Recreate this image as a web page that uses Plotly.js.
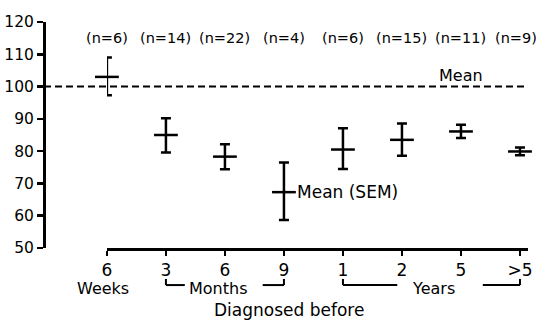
<!DOCTYPE html>
<html>
<head>
<meta charset="utf-8">
<script src="https://cdn.plot.ly/plotly-3.0.1.min.js"></script>
<style>html,body{margin:0;padding:0;background:#fff;}#chart{width:539px;height:321px;}</style>
</head>
<body>
<div id="chart"></div>
<script>
// ---- data ----
const categories = ['6', '3', '6', '9', '1', '2', '5', '>5'];
const means      = [103.0, 85.0, 78.3, 67.3, 80.5, 83.5, 86.1, 79.9];
const upperEnds  = [109.0, 90.2, 82.1, 76.5, 87.1, 88.6, 88.2, 81.1];
const lowerEnds  = [97.3, 79.6, 74.4, 58.7, 74.5, 78.6, 84.1, 78.7];
const nLabels    = ['(n=6)', '(n=14)', '(n=22)', '(n=4)', '(n=6)', '(n=15)', '(n=11)', '(n=9)'];
const referenceMean = 100;
const yTicks = [50, 60, 70, 80, 90, 100, 110, 120];
const unitLabels = ['Weeks', 'Months', 'Years'];
const xTitle = 'Diagnosed before';

const FONT = 'DejaVu Sans, sans-serif';
const xIdx = categories.map((c, i) => i);
const errPlus = upperEnds.map((u, i) => +(u - means[i]).toFixed(2));
const errMinus = lowerEnds.map((l, i) => +(means[i] - l).toFixed(2));

const trace = {
  type: 'scatter', mode: 'markers',
  x: xIdx, y: means,
  cliponaxis: false,
  marker: {symbol: 'line-ew', size: 17, color: '#000', line: {color: '#000', width: 2.5}},
  error_y: {type: 'data', symmetric: false, array: errPlus, arrayminus: errMinus,
            color: '#000', thickness: 2.5, width: 5},
  hoverinfo: 'skip'
};

const annotations = nLabels.map((t, i) => ({
  x: i, y: 115.2, xref: 'x', yref: 'y', text: t, showarrow: false,
  xanchor: 'center', yanchor: 'middle', xshift: (i === nLabels.length - 1 ? -4 : 0),
  font: {family: FONT, size: 14.5, color: '#000'}
}));
annotations.push({x: 6, y: referenceMean, xref: 'x', yref: 'y', text: 'Mean', showarrow: false,
  xanchor: 'center', yanchor: 'bottom', yshift: 0, font: {family: FONT, size: 16, color: '#000'}});
annotations.push({x: 3, y: means[3], xref: 'x', yref: 'y', text: 'Mean (SEM)', showarrow: false,
  xanchor: 'left', yanchor: 'middle', xshift: 11, font: {family: FONT, size: 17, color: '#000'}});
// unit labels
annotations.push({x: 0, y: -0.177, xref: 'x', yref: 'paper', text: unitLabels[0], showarrow: false,
  xanchor: 'center', yanchor: 'middle', xshift: -4, font: {family: FONT, size: 16, color: '#000'}});
annotations.push({x: 1.88, y: -0.177, xref: 'x', yref: 'paper', text: unitLabels[1], showarrow: false,
  xanchor: 'center', yanchor: 'middle', font: {family: FONT, size: 16, color: '#000'}});
annotations.push({x: 5.53, y: -0.177, xref: 'x', yref: 'paper', text: unitLabels[2], showarrow: false,
  xanchor: 'center', yanchor: 'middle', font: {family: FONT, size: 16, color: '#000'}});
annotations.push({x: 3.08, y: -0.274, xref: 'x', yref: 'paper', text: xTitle, showarrow: false,
  xanchor: 'center', yanchor: 'middle', font: {family: FONT, size: 17, color: '#000'}});

const ln = {color: '#000', width: 2};
const yTop = -0.137, yBot = -0.164;
function seg(x0, y0, x1, y1) {
  return {type: 'line', xref: 'x', yref: 'paper', x0: x0, y0: y0, x1: x1, y1: y1, line: ln};
}
const shapes = [
  {type: 'line', xref: 'paper', yref: 'y', x0: 0, x1: 0.998, y0: referenceMean, y1: referenceMean,
   line: {color: '#000', width: 2, dash: '7px,4px'}},
  // Months bracket
  seg(1, yTop, 1, yBot), seg(1, yBot, 1.32, yBot),
  seg(2.64, yBot, 3, yBot), seg(3, yBot, 3, yTop),
  // Years bracket
  seg(4, yTop, 4, yBot), seg(4, yBot, 4.92, yBot),
  seg(6.37, yBot, 7, yBot), seg(7, yBot, 7, yTop)
];

const layout = {
  width: 539, height: 321,
  margin: {l: 44, r: 11, t: 22, b: 73},
  paper_bgcolor: '#fff', plot_bgcolor: '#fff',
  showlegend: false,
  font: {family: FONT, color: '#000'},
  xaxis: {
    domain: [0.130, 1], range: [0, 7.136],
    tickmode: 'array', tickvals: xIdx, ticktext: categories,
    ticks: 'outside', ticklen: 5, tickwidth: 2.5, tickcolor: '#000',
    showline: true, linewidth: 3, linecolor: '#000',
    showgrid: false, zeroline: false,
    tickfont: {family: FONT, size: 17, color: '#000'}
  },
  yaxis: {
    anchor: 'free', position: 0,
    range: [50, 120], tickmode: 'array', tickvals: yTicks,
    ticks: 'outside', ticklen: 6, tickwidth: 2.5, tickcolor: '#000',
    showline: true, linewidth: 3, linecolor: '#000',
    showgrid: false, zeroline: false,
    tickfont: {family: FONT, size: 15.5, color: '#000'}
  },
  annotations: annotations,
  shapes: shapes
};

Plotly.newPlot('chart', [trace], layout, {staticPlot: true, displayModeBar: false});
</script>
</body>
</html>
